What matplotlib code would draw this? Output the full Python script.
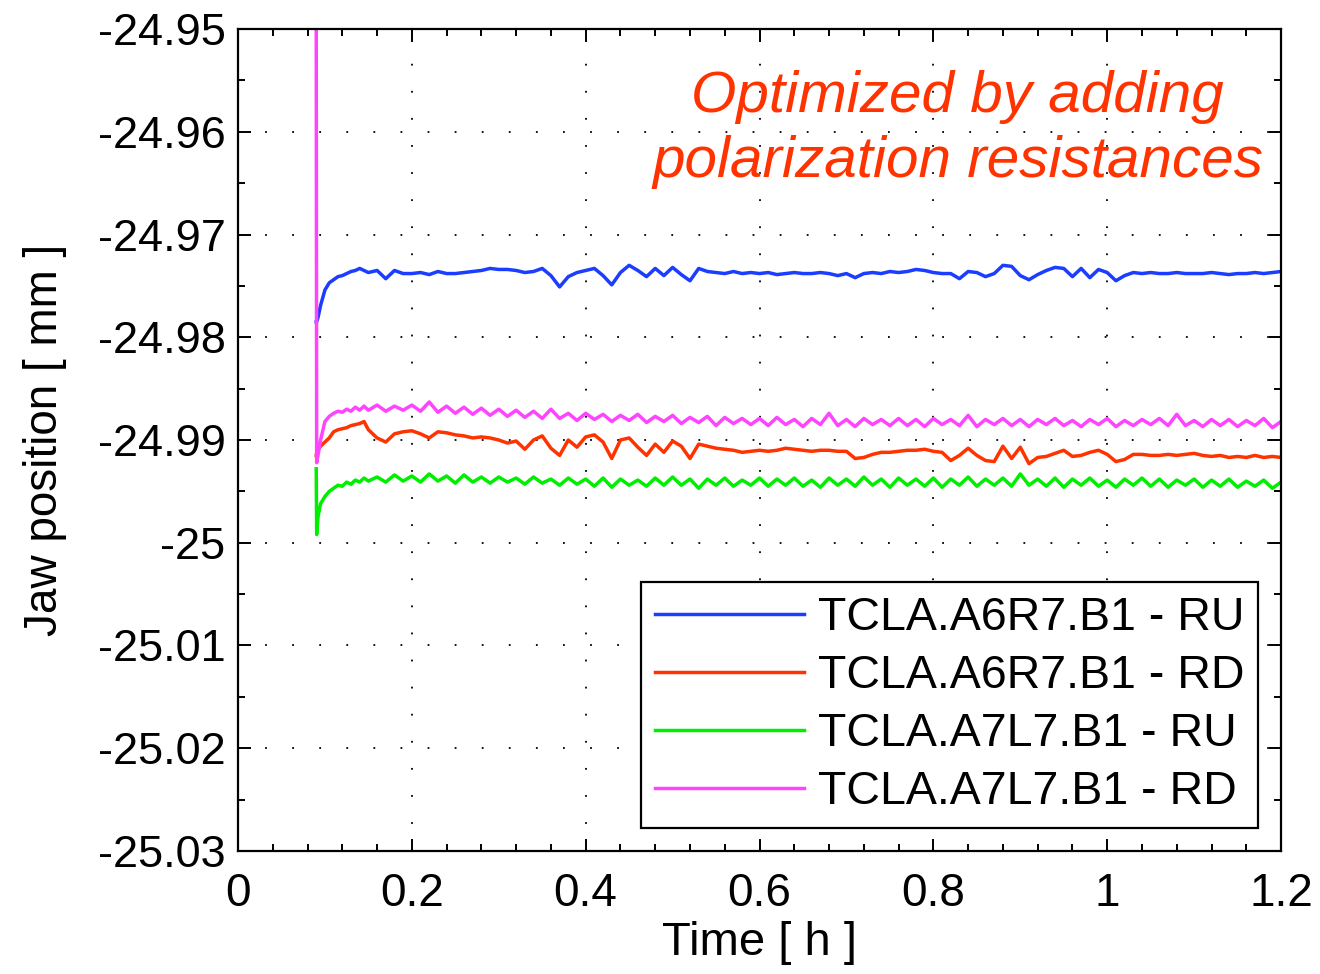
"""
Jaw position drift after optimisation (polarization resistances)
"""

import matplotlib
matplotlib.use("Agg")
import matplotlib.pyplot as plt
from matplotlib.ticker import FixedLocator, FixedFormatter, MultipleLocator
import numpy as np


# time in hours
time_h = [
    0.090, 0.0905, 0.092, 0.095, 0.100, 0.105, 0.110, 0.115, 0.120, 0.125,
    0.130, 0.135, 0.140, 0.145, 0.150,
    0.16, 0.17, 0.18, 0.19, 0.20, 0.21, 0.22, 0.23, 0.24, 0.25,
    0.26, 0.27, 0.28, 0.29, 0.30, 0.31, 0.32, 0.33, 0.34, 0.35,
    0.36, 0.37, 0.38, 0.39, 0.40, 0.41, 0.42, 0.43, 0.44, 0.45,
    0.46, 0.47, 0.48, 0.49, 0.50, 0.51, 0.52, 0.53, 0.54, 0.55,
    0.56, 0.57, 0.58, 0.59, 0.60, 0.61, 0.62, 0.63, 0.64, 0.65,
    0.66, 0.67, 0.68, 0.69, 0.70, 0.71, 0.72, 0.73, 0.74, 0.75,
    0.76, 0.77, 0.78, 0.79, 0.80, 0.81, 0.82, 0.83, 0.84, 0.85,
    0.86, 0.87, 0.88, 0.89, 0.90, 0.91, 0.92, 0.93, 0.94, 0.95,
    0.96, 0.97, 0.98, 0.99, 1.00, 1.01, 1.02, 1.03, 1.04, 1.05,
    1.06, 1.07, 1.08, 1.09, 1.10, 1.11, 1.12, 1.13, 1.14, 1.15,
    1.16, 1.17, 1.18, 1.19, 1.20,
]

# TCLA.A6R7.B1 - RU
a6r7_ru = [
    -24.9785, -24.9785, -24.9781, -24.9769, -24.9754, -24.9747, -24.9744, -24.9741, -24.9740, -24.9738,
    -24.9736, -24.9735, -24.9733, -24.9735, -24.9737,
    -24.9735, -24.9743, -24.9735, -24.9738, -24.9738, -24.9737, -24.9739, -24.9736, -24.9738, -24.9738,
    -24.9737, -24.9736, -24.9735, -24.9733, -24.9734, -24.9734, -24.9735, -24.9737, -24.9736, -24.9733,
    -24.9740, -24.9751, -24.9741, -24.9737, -24.9735, -24.9733, -24.9740, -24.9749, -24.9737, -24.9730,
    -24.9735, -24.9741, -24.9733, -24.9740, -24.9732, -24.9739, -24.9745, -24.9733, -24.9736, -24.9737,
    -24.9738, -24.9736, -24.9738, -24.9737, -24.9738, -24.9737, -24.9739, -24.9738, -24.9737, -24.9738,
    -24.9738, -24.9737, -24.9738, -24.9740, -24.9738, -24.9742, -24.9738, -24.9737, -24.9738, -24.9736,
    -24.9737, -24.9736, -24.9734, -24.9735, -24.9737, -24.9738, -24.9738, -24.9743, -24.9736, -24.9737,
    -24.9741, -24.9738, -24.9730, -24.9731, -24.9740, -24.9744, -24.9739, -24.9735, -24.9732, -24.9733,
    -24.9741, -24.9733, -24.9742, -24.9734, -24.9737, -24.9745, -24.9740, -24.9737, -24.9738, -24.9737,
    -24.9738, -24.9738, -24.9737, -24.9738, -24.9738, -24.9738, -24.9737, -24.9738, -24.9739, -24.9738,
    -24.9738, -24.9737, -24.9738, -24.9737, -24.9736,
]

# TCLA.A6R7.B1 - RD
a6r7_rd = [
    -24.9915, -24.9915, -24.9910, -24.9906, -24.9902, -24.9898, -24.9892, -24.9890, -24.9889, -24.9888,
    -24.9886, -24.9885, -24.9884, -24.9882, -24.9890,
    -24.9898, -24.9902, -24.9894, -24.9892, -24.9891, -24.9894, -24.9898, -24.9892, -24.9893, -24.9895,
    -24.9896, -24.9898, -24.9897, -24.9898, -24.9900, -24.9903, -24.9901, -24.9909, -24.9900, -24.9896,
    -24.9908, -24.9915, -24.9900, -24.9907, -24.9897, -24.9895, -24.9902, -24.9918, -24.9900, -24.9898,
    -24.9907, -24.9915, -24.9904, -24.9912, -24.9901, -24.9906, -24.9918, -24.9904, -24.9906, -24.9908,
    -24.9909, -24.9910, -24.9912, -24.9911, -24.9910, -24.9911, -24.9910, -24.9908, -24.9909, -24.9910,
    -24.9911, -24.9910, -24.9910, -24.9911, -24.9911, -24.9918, -24.9917, -24.9914, -24.9912, -24.9912,
    -24.9911, -24.9910, -24.9910, -24.9909, -24.9911, -24.9912, -24.9920, -24.9915, -24.9908, -24.9915,
    -24.9920, -24.9921, -24.9906, -24.9918, -24.9907, -24.9923, -24.9917, -24.9916, -24.9913, -24.9910,
    -24.9916, -24.9915, -24.9912, -24.9910, -24.9914, -24.9921, -24.9919, -24.9914, -24.9914, -24.9915,
    -24.9915, -24.9914, -24.9915, -24.9914, -24.9913, -24.9915, -24.9916, -24.9915, -24.9917, -24.9916,
    -24.9917, -24.9915, -24.9917, -24.9916, -24.9917,
]

# TCLA.A7L7.B1 - RU
a7l7_ru = [
    -24.9928, -24.9992, -24.9975, -24.9962, -24.9955, -24.9950, -24.9947, -24.9944, -24.9945, -24.9941,
    -24.9943, -24.9939, -24.9941, -24.9937, -24.9940,
    -24.9936, -24.9941, -24.9934, -24.9940, -24.9935, -24.9941, -24.9933, -24.9940, -24.9935, -24.9942,
    -24.9934, -24.9941, -24.9936, -24.9942, -24.9936, -24.9941, -24.9937, -24.9943, -24.9936, -24.9942,
    -24.9938, -24.9944, -24.9937, -24.9943, -24.9938, -24.9945, -24.9937, -24.9946, -24.9938, -24.9944,
    -24.9939, -24.9945, -24.9937, -24.9944, -24.9936, -24.9944, -24.9938, -24.9947, -24.9938, -24.9944,
    -24.9937, -24.9945, -24.9939, -24.9944, -24.9937, -24.9945, -24.9938, -24.9944, -24.9937, -24.9945,
    -24.9939, -24.9946, -24.9937, -24.9944, -24.9938, -24.9945, -24.9936, -24.9944, -24.9938, -24.9946,
    -24.9937, -24.9944, -24.9938, -24.9945, -24.9937, -24.9946, -24.9938, -24.9944, -24.9936, -24.9945,
    -24.9938, -24.9944, -24.9937, -24.9945, -24.9933, -24.9944, -24.9938, -24.9945, -24.9937, -24.9946,
    -24.9938, -24.9944, -24.9937, -24.9945, -24.9939, -24.9946, -24.9938, -24.9944, -24.9937, -24.9945,
    -24.9938, -24.9946, -24.9939, -24.9944, -24.9938, -24.9946, -24.9939, -24.9945, -24.9938, -24.9946,
    -24.9940, -24.9945, -24.9939, -24.9947, -24.9941,
]

# TCLA.A7L7.B1 - RD (first sample is the move, off the top of the plot)
a7l7_rd = [
    -24.9480, -24.9922, -24.9915, -24.9900, -24.9882, -24.9877, -24.9874, -24.9872, -24.9873, -24.9870,
    -24.9872, -24.9868, -24.9871, -24.9867, -24.9871,
    -24.9866, -24.9872, -24.9867, -24.9871, -24.9866, -24.9872, -24.9863, -24.9873, -24.9867, -24.9874,
    -24.9868, -24.9875, -24.9869, -24.9876, -24.9870, -24.9877, -24.9871, -24.9878, -24.9872, -24.9879,
    -24.9870, -24.9879, -24.9874, -24.9881, -24.9874, -24.9880, -24.9875, -24.9882, -24.9876, -24.9881,
    -24.9875, -24.9883, -24.9877, -24.9882, -24.9876, -24.9884, -24.9878, -24.9883, -24.9877, -24.9886,
    -24.9878, -24.9884, -24.9879, -24.9885, -24.9879, -24.9886, -24.9878, -24.9885, -24.9880, -24.9887,
    -24.9879, -24.9885, -24.9874, -24.9886, -24.9880, -24.9887, -24.9879, -24.9885, -24.9880, -24.9886,
    -24.9879, -24.9886, -24.9880, -24.9887, -24.9879, -24.9885, -24.9880, -24.9886, -24.9876, -24.9887,
    -24.9880, -24.9885, -24.9879, -24.9886, -24.9880, -24.9887, -24.9880, -24.9885, -24.9879, -24.9886,
    -24.9881, -24.9887, -24.9880, -24.9885, -24.9879, -24.9887, -24.9881, -24.9886, -24.9880, -24.9885,
    -24.9879, -24.9886, -24.9875, -24.9886, -24.9881, -24.9887, -24.9880, -24.9886, -24.9880, -24.9887,
    -24.9881, -24.9886, -24.9879, -24.9888, -24.9882,
]

labels = ["TCLA.A6R7.B1 - RU", "TCLA.A6R7.B1 - RD",
          "TCLA.A7L7.B1 - RU", "TCLA.A7L7.B1 - RD"]
colors = ["#1a3dff", "#ff3300", "#00ee00", "#ff44ff"]

xticks = [0, 0.2, 0.4, 0.6, 0.8, 1.0, 1.2]
xtick_labels = ["0", "0.2", "0.4", "0.6", "0.8", "1", "1.2"]
yticks = [-25.03, -25.02, -25.01, -25.00, -24.99, -24.98, -24.97, -24.96, -24.95]
ytick_labels = ["-25.03", "-25.02", "-25.01", "-25", "-24.99",
                "-24.98", "-24.97", "-24.96", "-24.95"]

plt.rcParams["font.family"] = ["Liberation Sans", "DejaVu Sans"]

fig = plt.figure(figsize=(13.2, 9.74), dpi=100)
ax = fig.add_axes([0.1803, 0.1263, 0.7902, 0.8439])

series = [a6r7_ru, a6r7_rd, a7l7_ru, a7l7_rd]
for y, lab, c in zip(series, labels, colors):
    ax.plot(time_h, y, color=c, linewidth=2.5, label=lab)

ax.set_xlim(0, 1.2)
ax.set_ylim(-25.03, -24.95)
ax.xaxis.set_major_locator(FixedLocator(xticks))
ax.xaxis.set_major_formatter(FixedFormatter(xtick_labels))
ax.xaxis.set_minor_locator(MultipleLocator(0.04))
ax.yaxis.set_major_locator(FixedLocator(yticks))
ax.yaxis.set_major_formatter(FixedFormatter(ytick_labels))
ax.yaxis.set_minor_locator(MultipleLocator(0.005))

ax.tick_params(which="both", direction="in", top=True, right=True, width=1.4)
ax.tick_params(which="major", length=9)
ax.tick_params(which="minor", length=5)
ax.tick_params(axis="y", labelsize=32.5, pad=9)
ax.tick_params(axis="x", labelsize=33, pad=15)
for sp in ax.spines.values():
    sp.set_linewidth(1.6)

ax.grid(True, which="major", color="black", linestyle=(0, (1, 14)), linewidth=1.3)

ax.set_xlabel("Time [ h ]", fontsize=34, labelpad=4)
ax.set_ylabel("Jaw position [ mm ]", fontsize=33, labelpad=22)

ax.text(0.690, 0.878, "Optimized by adding\npolarization resistances",
        transform=ax.transAxes, ha="center", va="center", multialignment="center",
        fontsize=42, style="italic", color="#ff3300", linespacing=1.25)

leg = ax.legend(loc="lower right", bbox_to_anchor=(0.978, 0.028), fontsize=33.5,
                fancybox=False, framealpha=1, edgecolor="black",
                handlelength=3.2, handletextpad=0.3, labelspacing=0.3,
                borderpad=0.3, borderaxespad=0)
leg.get_frame().set_linewidth(1.6)

fig.savefig("out.png", dpi=100)
